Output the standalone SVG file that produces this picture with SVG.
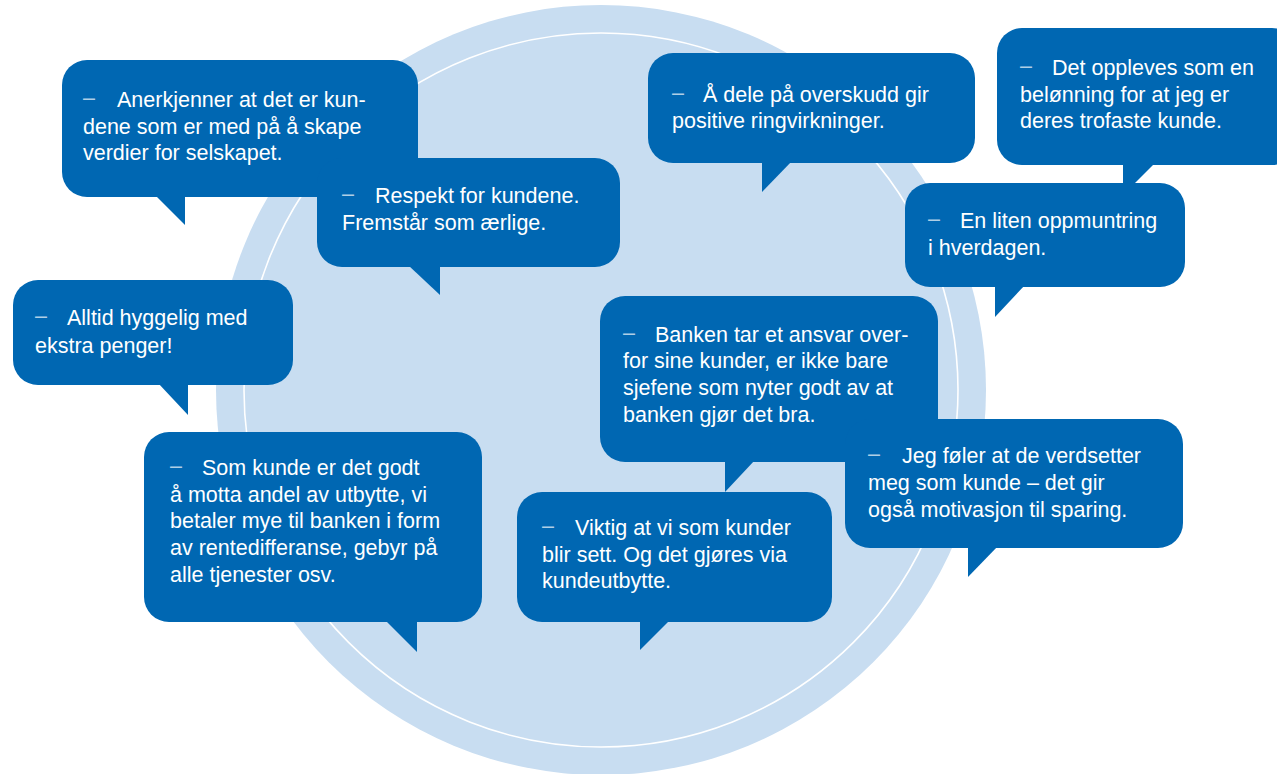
<svg xmlns="http://www.w3.org/2000/svg" width="1277" height="774" viewBox="0 0 1277 774">
<style>
.bg{fill:#FFFFFF}
.disc{fill:#C8DDF1}
.ring{fill:none;stroke:#FFFFFF;stroke-width:1.6}
.b{fill:#0067B2}
.t{font-family:"Liberation Sans",Arial,sans-serif;font-size:21.5px;fill:#FFFFFF}
.d{font-family:"Liberation Sans",Arial,sans-serif;font-size:21.5px;fill:#FFFFFF;fill-opacity:0.7}
</style>
<rect class="bg" x="0" y="0" width="1277" height="774"/>
<g id="background">
<circle class="disc" cx="601" cy="390" r="385"/>
<circle class="ring" cx="601" cy="390" r="357"/>
</g>
<g id="connectors"></g>
<g id="b1">
<rect class="b" x="62" y="60" width="356" height="137" rx="25"/>
<polygon class="b" points="155,195 185,225 185,195"/>
<text class="d" x="83" y="105">–</text>
<text class="t"><tspan x="117" y="107">Anerkjenner at det er kun-</tspan><tspan x="83" y="134">dene som er med på å skape</tspan><tspan x="83" y="160">verdier for selskapet.</tspan></text>
</g>
<g id="b2">
<rect class="b" x="317" y="158" width="303" height="109" rx="25"/>
<polygon class="b" points="408,265 440,295 440,265"/>
<text class="d" x="342" y="201">–</text>
<text class="t"><tspan x="375" y="203">Respekt for kundene.</tspan><tspan x="342" y="230">Fremstår som ærlige.</tspan></text>
</g>
<g id="b3">
<rect class="b" x="648" y="53" width="327" height="110" rx="25"/>
<polygon class="b" points="762,161 792,161 762,192"/>
<text class="d" x="672" y="100">–</text>
<text class="t"><tspan x="703" y="102">Å dele på overskudd gir</tspan><tspan x="672" y="128">positive ringvirkninger.</tspan></text>
</g>
<g id="b4">
<rect class="b" x="997" y="28" width="300" height="137" rx="25"/>
<polygon class="b" points="1123,163 1155,163 1123,195"/>
<text class="d" x="1020" y="73">–</text>
<text class="t"><tspan x="1052" y="75">Det oppleves som en</tspan><tspan x="1020" y="102">belønning for at jeg er</tspan><tspan x="1020" y="128">deres trofaste kunde.</tspan></text>
</g>
<g id="b5">
<rect class="b" x="905" y="183" width="280" height="104" rx="25"/>
<polygon class="b" points="995,285 1025,285 995,317"/>
<text class="d" x="928" y="226">–</text>
<text class="t"><tspan x="960" y="228">En liten oppmuntring</tspan><tspan x="928" y="255">i hverdagen.</tspan></text>
</g>
<g id="b6">
<rect class="b" x="13" y="280" width="280" height="105" rx="25"/>
<polygon class="b" points="158,383 188,383 188,415"/>
<text class="d" x="35" y="323">–</text>
<text class="t"><tspan x="67" y="325">Alltid hyggelig med</tspan><tspan x="35" y="353">ekstra penger!</tspan></text>
</g>
<g id="b7">
<rect class="b" x="600" y="296" width="338" height="166" rx="25"/>
<polygon class="b" points="725,460 755,460 725,492"/>
<text class="d" x="623" y="340">–</text>
<text class="t"><tspan x="655" y="342">Banken tar et ansvar over-</tspan><tspan x="623" y="368">for sine kunder, er ikke bare</tspan><tspan x="623" y="395">sjefene som nyter godt av at</tspan><tspan x="623" y="422">banken gjør det bra.</tspan></text>
</g>
<g id="b8">
<rect class="b" x="845" y="419" width="338" height="129" rx="25"/>
<polygon class="b" points="968,546 998,546 968,577"/>
<text class="d" x="868" y="461">–</text>
<text class="t"><tspan x="902" y="463">Jeg føler at de verdsetter</tspan><tspan x="868" y="490">meg som kunde – det gir</tspan><tspan x="868" y="517">også motivasjon til sparing.</tspan></text>
</g>
<g id="b9">
<rect class="b" x="144" y="432" width="338" height="190" rx="25"/>
<polygon class="b" points="385,620 417,620 417,652"/>
<text class="d" x="170" y="473">–</text>
<text class="t"><tspan x="202" y="475">Som kunde er det godt</tspan><tspan x="170" y="502">å motta andel av utbytte, vi</tspan><tspan x="170" y="528">betaler mye til banken i form</tspan><tspan x="170" y="555">av rentedifferanse, gebyr på</tspan><tspan x="170" y="582">alle tjenester osv.</tspan></text>
</g>
<g id="b10">
<rect class="b" x="517" y="492" width="315" height="130" rx="25"/>
<polygon class="b" points="640,620 670,620 640,650"/>
<text class="d" x="542" y="533">–</text>
<text class="t"><tspan x="575" y="535">Viktig at vi som kunder</tspan><tspan x="542" y="562">blir sett. Og det gjøres via</tspan><tspan x="542" y="588">kundeutbytte.</tspan></text>
</g>
</svg>
